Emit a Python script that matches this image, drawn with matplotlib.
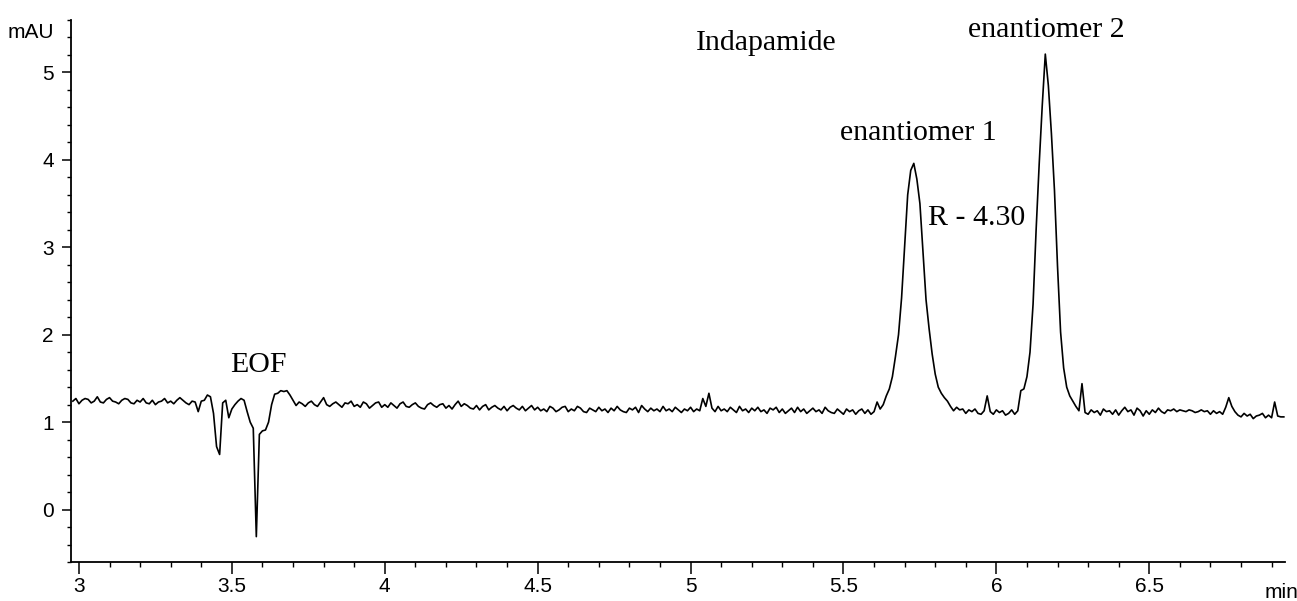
import matplotlib
matplotlib.use("Agg")
import matplotlib.pyplot as plt
import numpy as np
from matplotlib.ticker import MultipleLocator

# Electropherogram of indapamide, detector sampled every 0.01 min from 2.98 min
t_start = 2.98
t_step = 0.01
signal = [
    1.24, 1.27,                                                          # 2.98
    1.21, 1.25, 1.27, 1.26, 1.22, 1.24, 1.29, 1.23, 1.22, 1.26,          # 3.00
    1.28, 1.24, 1.23, 1.21, 1.25, 1.27, 1.26, 1.22, 1.21, 1.25,          # 3.10
    1.23, 1.27, 1.22, 1.21, 1.25, 1.20, 1.23, 1.24, 1.27, 1.22,          # 3.20
    1.24, 1.21, 1.25, 1.28, 1.25, 1.22, 1.20, 1.24, 1.23, 1.12,          # 3.30
    1.24, 1.25, 1.31, 1.29, 1.10, 0.72, 0.63, 1.22, 1.25, 1.05,          # 3.40
    1.15, 1.20, 1.24, 1.27, 1.25, 1.12, 1.00, 0.93, -0.31, 0.86,         # 3.50
    0.90, 0.91, 1.00, 1.20, 1.32, 1.33, 1.36, 1.35, 1.36, 1.31,          # 3.60
    1.25, 1.19, 1.23, 1.21, 1.18, 1.22, 1.24, 1.20, 1.18, 1.23,          # 3.70
    1.28, 1.20, 1.18, 1.21, 1.23, 1.20, 1.17, 1.22, 1.21, 1.24,          # 3.80
    1.18, 1.20, 1.17, 1.23, 1.21, 1.16, 1.19, 1.22, 1.23, 1.17,          # 3.90
    1.20, 1.17, 1.22, 1.19, 1.16, 1.21, 1.23, 1.18, 1.17, 1.20,          # 4.00
    1.22, 1.18, 1.16, 1.15, 1.20, 1.22, 1.19, 1.17, 1.20, 1.21,          # 4.10
    1.16, 1.19, 1.15, 1.20, 1.24, 1.18, 1.21, 1.19, 1.16, 1.15,          # 4.20
    1.19, 1.14, 1.18, 1.20, 1.14, 1.17, 1.19, 1.16, 1.14, 1.18,          # 4.30
    1.13, 1.17, 1.19, 1.16, 1.14, 1.18, 1.13, 1.16, 1.19, 1.14,          # 4.40
    1.17, 1.13, 1.15, 1.12, 1.18, 1.16, 1.12, 1.14, 1.17, 1.18,          # 4.50
    1.12, 1.15, 1.13, 1.18, 1.16, 1.12, 1.11, 1.16, 1.14, 1.12,          # 4.60
    1.17, 1.13, 1.15, 1.11, 1.16, 1.13, 1.18, 1.14, 1.12, 1.11,          # 4.70
    1.16, 1.14, 1.17, 1.11, 1.19, 1.15, 1.12, 1.16, 1.13, 1.15,          # 4.80
    1.12, 1.18, 1.13, 1.15, 1.12, 1.17, 1.14, 1.11, 1.15, 1.13,          # 4.90
    1.17, 1.12, 1.15, 1.13, 1.27, 1.18, 1.33, 1.16, 1.12, 1.18,          # 5.00
    1.13, 1.15, 1.12, 1.17, 1.14, 1.11, 1.18, 1.13, 1.15, 1.11,          # 5.10
    1.16, 1.13, 1.17, 1.12, 1.14, 1.10, 1.16, 1.14, 1.17, 1.11,          # 5.20
    1.15, 1.10, 1.13, 1.16, 1.11, 1.17, 1.12, 1.15, 1.10, 1.13,          # 5.30
    1.16, 1.12, 1.14, 1.10, 1.17, 1.13, 1.11, 1.10, 1.15, 1.12,          # 5.40
    1.09, 1.15, 1.12, 1.14, 1.09, 1.13, 1.15, 1.10, 1.14, 1.09,          # 5.50
    1.12, 1.23, 1.15, 1.20, 1.30, 1.38, 1.52, 1.75, 2.00, 2.42,          # 5.60
    3.00, 3.60, 3.88, 3.96, 3.78, 3.50, 2.95, 2.40, 2.07, 1.78,          # 5.70
    1.55, 1.40, 1.33, 1.28, 1.24, 1.18, 1.13, 1.17, 1.14, 1.15,          # 5.80
    1.10, 1.14, 1.12, 1.15, 1.10, 1.09, 1.13, 1.30, 1.12, 1.09,          # 5.90
    1.14, 1.11, 1.13, 1.08, 1.10, 1.14, 1.09, 1.13, 1.36, 1.38,          # 6.00
    1.52, 1.80, 2.35, 3.20, 3.95, 4.62, 5.21, 4.85, 4.30, 3.65,          # 6.10
    2.78, 2.03, 1.62, 1.40, 1.30, 1.24, 1.18, 1.13, 1.44, 1.11,          # 6.20
    1.09, 1.14, 1.11, 1.13, 1.08, 1.15, 1.12, 1.13, 1.09, 1.14,          # 6.30
    1.08, 1.13, 1.17, 1.12, 1.14, 1.08, 1.16, 1.13, 1.07, 1.13,          # 6.40
    1.09, 1.14, 1.11, 1.16, 1.12, 1.10, 1.14, 1.13, 1.15, 1.12,          # 6.50
    1.14, 1.13, 1.12, 1.14, 1.13, 1.11, 1.12, 1.14, 1.12, 1.13,          # 6.60
    1.09, 1.13, 1.10, 1.12, 1.09, 1.17, 1.28, 1.18, 1.12, 1.08,          # 6.70
    1.06, 1.10, 1.07, 1.09, 1.04, 1.07, 1.08, 1.10, 1.05, 1.08,          # 6.80
    1.05, 1.23, 1.07, 1.06, 1.06,                                        # 6.90
]
time = t_start + t_step * np.arange(len(signal))

x_ticks = [3, 3.5, 4, 4.5, 5, 5.5, 6, 6.5]
x_ticklabels = ["3", "3.5", "4", "4.5", "5", "5.5", "6", "6.5"]
y_ticks = [0, 1, 2, 3, 4, 5]

# peak / marker labels: (text, time, mAU)
labels = [
    ("EOF", 3.586, 1.65),
    ("Indapamide", 5.247, 5.34),
    ("enantiomer 1", 5.745, 4.31),
    ("enantiomer 2", 6.163, 5.48),
    ("R - 4.30", 5.934, 3.33),
]

fig = plt.figure(figsize=(12.97, 6.01), dpi=100)
ax = fig.add_axes([71/1297, 39/601, (1293-71)/1297, (581-39)/601])

ax.plot(time, signal, color="black", lw=1.2)

ax.set_xlim(2.974, 6.97)
ax.set_ylim(-0.6, 5.6)

for s in ["top", "right"]:
    ax.spines[s].set_visible(False)
ax.spines["left"].set_linewidth(1.3)
ax.spines["bottom"].set_linewidth(1.3)
ax.spines["bottom"].set_bounds(2.974, 6.945)

ax.set_xticks(x_ticks)
ax.set_xticklabels(x_ticklabels)
ax.set_yticks(y_ticks)
ax.xaxis.set_minor_locator(MultipleLocator(0.1))
ax.yaxis.set_minor_locator(MultipleLocator(0.2))
ax.tick_params(axis="x", which="major", direction="out", length=8.5, width=1.1, pad=2)
ax.tick_params(axis="x", which="minor", direction="out", length=3.5, width=1.0)
ax.tick_params(axis="y", which="major", direction="out", length=6.5, width=1.1, pad=6)
ax.tick_params(axis="y", which="minor", direction="out", length=3.0, width=1.0)
for lab in ax.get_xticklabels() + ax.get_yticklabels():
    lab.set_fontfamily("Liberation Sans")
    lab.set_fontsize(15)

fig.text(8/1297, 1 - 33/601, "mAU", family="Liberation Sans", fontsize=15,
         ha="left", va="center")
fig.text(1281/1297, 1 - 592/601, "min", family="Liberation Sans", fontsize=15,
         ha="center", va="center")

for txt, tx, ty in labels:
    ax.text(tx, ty, txt, family="Liberation Serif", fontsize=21.5,
            ha="center", va="center")

fig.savefig("out.png", dpi=100)
